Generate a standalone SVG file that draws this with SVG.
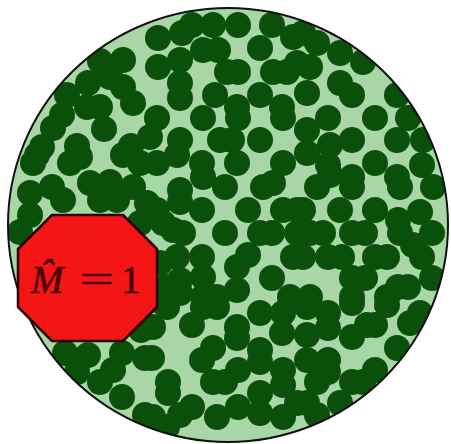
<svg xmlns="http://www.w3.org/2000/svg" width="451" height="444" viewBox="0 0 451 444">
<style>
.d{fill:#0a500b}
.t{font-family:"Liberation Serif","DejaVu Serif",serif;fill:#4a0404;stroke:#4a0404;stroke-width:0.6}
</style>
<defs>
<clipPath id="cc"><ellipse cx="228" cy="225" rx="220" ry="217"/></clipPath>
</defs>
<rect width="451" height="444" fill="#ffffff"/>
<g id="disc">
<ellipse cx="228" cy="225" rx="220" ry="217" fill="#a9d6a7"/>
<g id="particles" clip-path="url(#cc)">
<circle class="d" cx="100" cy="61" r="13"/><circle class="d" cx="123" cy="60" r="13"/><circle class="d" cx="110" cy="77" r="13"/><circle class="d" cx="123" cy="87" r="13"/><circle class="d" cx="88" cy="83" r="13"/><circle class="d" cx="67" cy="95" r="13"/><circle class="d" cx="133" cy="103" r="13"/><circle class="d" cx="100" cy="107" r="13"/><circle class="d" cx="87" cy="107" r="13"/><circle class="d" cx="62" cy="115" r="13"/><circle class="d" cx="53" cy="128" r="13"/><circle class="d" cx="104" cy="129" r="13"/><circle class="d" cx="77" cy="146" r="13"/><circle class="d" cx="42" cy="147" r="13"/><circle class="d" cx="131" cy="146" r="13"/><circle class="d" cx="150" cy="137" r="13"/><circle class="d" cx="37" cy="155" r="13"/>
<circle class="d" cx="158" cy="38" r="13"/><circle class="d" cx="158" cy="67" r="13"/><circle class="d" cx="182" cy="33" r="13"/><circle class="d" cx="192" cy="25" r="13"/><circle class="d" cx="213" cy="25" r="13"/><circle class="d" cx="238" cy="25" r="13"/><circle class="d" cx="272" cy="25" r="13"/><circle class="d" cx="293" cy="37" r="13"/><circle class="d" cx="203" cy="50" r="13"/><circle class="d" cx="218" cy="50" r="13"/><circle class="d" cx="260" cy="48" r="13"/><circle class="d" cx="180" cy="60" r="13"/><circle class="d" cx="227" cy="72" r="13"/><circle class="d" cx="238" cy="72" r="13"/><circle class="d" cx="273" cy="72" r="13"/><circle class="d" cx="287" cy="72" r="13"/><circle class="d" cx="180" cy="83" r="13"/><circle class="d" cx="180" cy="98" r="13"/><circle class="d" cx="215" cy="95" r="13"/><circle class="d" cx="260" cy="95" r="13"/><circle class="d" cx="237" cy="107" r="13"/><circle class="d" cx="238" cy="118" r="13"/><circle class="d" cx="282" cy="107" r="13"/><circle class="d" cx="283" cy="118" r="13"/><circle class="d" cx="157" cy="118" r="13"/><circle class="d" cx="203" cy="118" r="13"/><circle class="d" cx="180" cy="140" r="13"/><circle class="d" cx="220" cy="140" r="13"/><circle class="d" cx="232" cy="140" r="13"/><circle class="d" cx="260" cy="140" r="13"/><circle class="d" cx="297" cy="63" r="13"/>
<circle class="d" cx="303" cy="33" r="13"/><circle class="d" cx="317" cy="43" r="13"/><circle class="d" cx="340" cy="53" r="13"/><circle class="d" cx="363" cy="62" r="13"/><circle class="d" cx="340" cy="83" r="13"/><circle class="d" cx="352" cy="95" r="13"/><circle class="d" cx="310" cy="67" r="13"/><circle class="d" cx="307" cy="93" r="13"/><circle class="d" cx="328" cy="118" r="13"/><circle class="d" cx="375" cy="118" r="13"/><circle class="d" cx="397" cy="95" r="13"/><circle class="d" cx="408" cy="118" r="13"/><circle class="d" cx="307" cy="130" r="13"/><circle class="d" cx="352" cy="140" r="13"/><circle class="d" cx="330" cy="145" r="13"/><circle class="d" cx="397" cy="140" r="13"/><circle class="d" cx="423" cy="140" r="13"/>
<circle class="d" cx="33" cy="163" r="13"/><circle class="d" cx="70" cy="163" r="13"/><circle class="d" cx="80" cy="157" r="13"/><circle class="d" cx="123" cy="155" r="13"/><circle class="d" cx="140" cy="163" r="13"/><circle class="d" cx="30" cy="193" r="13"/><circle class="d" cx="52" cy="187" r="13"/><circle class="d" cx="90" cy="183" r="13"/><circle class="d" cx="110" cy="182" r="13"/><circle class="d" cx="133" cy="187" r="13"/><circle class="d" cx="63" cy="200" r="13"/><circle class="d" cx="100" cy="200" r="13"/><circle class="d" cx="117" cy="200" r="13"/><circle class="d" cx="30" cy="215" r="13"/><circle class="d" cx="20" cy="232" r="13"/><circle class="d" cx="140" cy="223" r="13"/><circle class="d" cx="147" cy="203" r="13"/>
<circle class="d" cx="157" cy="163" r="13"/><circle class="d" cx="177" cy="155" r="13"/><circle class="d" cx="202" cy="163" r="13"/><circle class="d" cx="203" cy="177" r="13"/><circle class="d" cx="237" cy="163" r="13"/><circle class="d" cx="225" cy="187" r="13"/><circle class="d" cx="263" cy="187" r="13"/><circle class="d" cx="273" cy="183" r="13"/><circle class="d" cx="283" cy="163" r="13"/><circle class="d" cx="180" cy="190" r="13"/><circle class="d" cx="180" cy="202" r="13"/><circle class="d" cx="157" cy="210" r="13"/><circle class="d" cx="202" cy="210" r="13"/><circle class="d" cx="248" cy="210" r="13"/><circle class="d" cx="283" cy="210" r="13"/><circle class="d" cx="297" cy="210" r="13"/><circle class="d" cx="173" cy="230" r="13"/><circle class="d" cx="183" cy="233" r="13"/><circle class="d" cx="225" cy="233" r="13"/><circle class="d" cx="260" cy="233" r="13"/><circle class="d" cx="272" cy="233" r="13"/><circle class="d" cx="297" cy="233" r="13"/><circle class="d" cx="163" cy="223" r="13"/><circle class="d" cx="177" cy="257" r="13"/><circle class="d" cx="202" cy="257" r="13"/><circle class="d" cx="248" cy="255" r="13"/><circle class="d" cx="237" cy="267" r="13"/><circle class="d" cx="293" cy="257" r="13"/><circle class="d" cx="180" cy="280" r="13"/><circle class="d" cx="203" cy="277" r="13"/><circle class="d" cx="272" cy="278" r="13"/><circle class="d" cx="237" cy="290" r="13"/><circle class="d" cx="217" cy="297" r="13"/><circle class="d" cx="203" cy="297" r="13"/><circle class="d" cx="180" cy="293" r="13"/><circle class="d" cx="290" cy="297" r="13"/><circle class="d" cx="160" cy="263" r="13"/><circle class="d" cx="166" cy="287" r="13"/><circle class="d" cx="157" cy="300" r="13"/>
<circle class="d" cx="307" cy="153" r="13"/><circle class="d" cx="328" cy="165" r="13"/><circle class="d" cx="330" cy="175" r="13"/><circle class="d" cx="352" cy="177" r="13"/><circle class="d" cx="352" cy="187" r="13"/><circle class="d" cx="375" cy="163" r="13"/><circle class="d" cx="397" cy="177" r="13"/><circle class="d" cx="400" cy="187" r="13"/><circle class="d" cx="422" cy="165" r="13"/><circle class="d" cx="433" cy="187" r="13"/><circle class="d" cx="317" cy="187" r="13"/><circle class="d" cx="303" cy="210" r="13"/><circle class="d" cx="340" cy="210" r="13"/><circle class="d" cx="375" cy="210" r="13"/><circle class="d" cx="420" cy="212" r="13"/><circle class="d" cx="398" cy="220" r="13"/><circle class="d" cx="310" cy="233" r="13"/><circle class="d" cx="323" cy="233" r="13"/><circle class="d" cx="352" cy="233" r="13"/><circle class="d" cx="365" cy="233" r="13"/><circle class="d" cx="400" cy="233" r="13"/><circle class="d" cx="432" cy="233" r="13"/><circle class="d" cx="413" cy="245" r="13"/><circle class="d" cx="303" cy="257" r="13"/><circle class="d" cx="328" cy="257" r="13"/><circle class="d" cx="342" cy="257" r="13"/><circle class="d" cx="375" cy="257" r="13"/><circle class="d" cx="387" cy="257" r="13"/><circle class="d" cx="422" cy="257" r="13"/><circle class="d" cx="352" cy="278" r="13"/><circle class="d" cx="365" cy="278" r="13"/><circle class="d" cx="432" cy="278" r="13"/><circle class="d" cx="398" cy="287" r="13"/><circle class="d" cx="408" cy="287" r="13"/><circle class="d" cx="310" cy="297" r="13"/><circle class="d" cx="352" cy="297" r="13"/><circle class="d" cx="387" cy="297" r="13"/>
<circle class="d" cx="65" cy="353" r="13"/><circle class="d" cx="88" cy="355" r="13"/><circle class="d" cx="122" cy="353" r="13"/><circle class="d" cx="145" cy="358" r="13"/><circle class="d" cx="77" cy="372" r="13"/><circle class="d" cx="100" cy="382" r="13"/><circle class="d" cx="113" cy="370" r="13"/><circle class="d" cx="122" cy="397" r="13"/><circle class="d" cx="145" cy="415" r="13"/><circle class="d" cx="141" cy="330" r="13"/>
<circle class="d" cx="167" cy="307" r="13"/><circle class="d" cx="203" cy="307" r="13"/><circle class="d" cx="217" cy="307" r="13"/><circle class="d" cx="260" cy="313" r="13"/><circle class="d" cx="283" cy="313" r="13"/><circle class="d" cx="192" cy="325" r="13"/><circle class="d" cx="237" cy="327" r="13"/><circle class="d" cx="237" cy="338" r="13"/><circle class="d" cx="282" cy="333" r="13"/><circle class="d" cx="153" cy="327" r="13"/><circle class="d" cx="213" cy="348" r="13"/><circle class="d" cx="202" cy="360" r="13"/><circle class="d" cx="260" cy="350" r="13"/><circle class="d" cx="260" cy="362" r="13"/><circle class="d" cx="152" cy="358" r="13"/><circle class="d" cx="168" cy="382" r="13"/><circle class="d" cx="168" cy="393" r="13"/><circle class="d" cx="213" cy="382" r="13"/><circle class="d" cx="225" cy="382" r="13"/><circle class="d" cx="238" cy="370" r="13"/><circle class="d" cx="283" cy="370" r="13"/><circle class="d" cx="283" cy="385" r="13"/><circle class="d" cx="260" cy="393" r="13"/><circle class="d" cx="192" cy="407" r="13"/><circle class="d" cx="217" cy="417" r="13"/><circle class="d" cx="238" cy="407" r="13"/><circle class="d" cx="260" cy="413" r="13"/><circle class="d" cx="283" cy="417" r="13"/><circle class="d" cx="167" cy="427" r="13"/><circle class="d" cx="180" cy="415" r="13"/><circle class="d" cx="153" cy="417" r="13"/><circle class="d" cx="297" cy="403" r="13"/>
<circle class="d" cx="307" cy="307" r="13"/><circle class="d" cx="328" cy="313" r="13"/><circle class="d" cx="328" cy="328" r="13"/><circle class="d" cx="352" cy="303" r="13"/><circle class="d" cx="387" cy="305" r="13"/><circle class="d" cx="367" cy="325" r="13"/><circle class="d" cx="375" cy="325" r="13"/><circle class="d" cx="352" cy="337" r="13"/><circle class="d" cx="410" cy="323" r="13"/><circle class="d" cx="420" cy="313" r="13"/><circle class="d" cx="397" cy="348" r="13"/><circle class="d" cx="307" cy="335" r="13"/><circle class="d" cx="307" cy="360" r="13"/><circle class="d" cx="328" cy="360" r="13"/><circle class="d" cx="317" cy="382" r="13"/><circle class="d" cx="328" cy="372" r="13"/><circle class="d" cx="352" cy="382" r="13"/><circle class="d" cx="363" cy="382" r="13"/><circle class="d" cx="375" cy="370" r="13"/><circle class="d" cx="307" cy="403" r="13"/><circle class="d" cx="317" cy="415" r="13"/><circle class="d" cx="340" cy="403" r="13"/>
</g>
<ellipse cx="228" cy="225" rx="220" ry="217" fill="none" stroke="#111" stroke-width="2"/>
</g>
<g id="octagon">
<polygon points="52,215 123,215 157,249 157,307 123,341 52,341 18,307 18,249" fill="#f41616" stroke="#2a0000" stroke-width="2.5" stroke-linejoin="round"/>
<text class="t" x="31" y="293" font-size="39" font-style="italic">M&#x0302;</text>
<text class="t" x="80" y="293" font-size="39" textLength="34" lengthAdjust="spacingAndGlyphs">=</text>
<text class="t" x="121" y="293" font-size="39">1</text>
</g>
</svg>
